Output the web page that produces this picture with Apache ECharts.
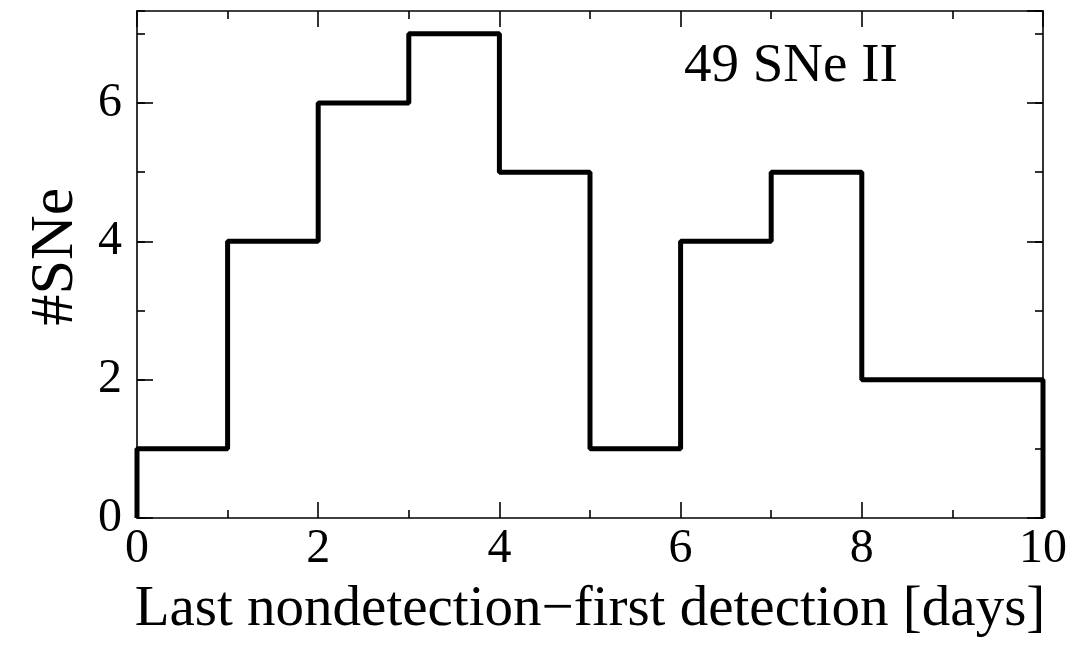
<!DOCTYPE html>
<html>
<head>
<meta charset="utf-8">
<script src="https://cdn.jsdelivr.net/npm/echarts@6/dist/echarts.min.js"></script>
<style>html,body{margin:0;padding:0;background:#fff}#c{width:1070px;height:645px}</style>
</head>
<body>
<div id="c"></div>
<script>
// Histogram data: bin edges (days) and counts per bin
var binEdges = [0, 1, 2, 3, 4, 5, 6, 7, 8, 9, 10];
var counts = [1, 4, 6, 7, 5, 1, 4, 5, 2, 2];
var xTicks = [0, 2, 4, 6, 8, 10];
var yTicks = [0, 2, 4, 6];
var annotation = '49 SNe II';
var xTitle = 'Last nondetection\u2212first detection [days]';
var yTitle = '#SNe';

var stepData = [[binEdges[0], 0]];
for (var i = 0; i < counts.length; i++) stepData.push([binEdges[i], counts[i]]);
stepData.push([binEdges[binEdges.length - 1], counts[counts.length - 1]]);
stepData.push([binEdges[binEdges.length - 1], 0]);

var FONT = 'Liberation Serif';
var YMAX = 7.33;
var lineStyle = {color: '#000', width: 1.6};

function xAx(pos, main) {
  return {
    type: 'value', position: pos, min: 0, max: 10, interval: 2,
    axisLine: {show: main, onZero: false, lineStyle: lineStyle},
    axisTick: {show: true, inside: true, length: 16, lineStyle: lineStyle},
    minorTick: {show: true, splitNumber: 2, length: 8, lineStyle: lineStyle},
    splitLine: {show: false}, minorSplitLine: {show: false},
    axisLabel: {show: pos === 'bottom', color: '#000', fontFamily: FONT, fontSize: 48, margin: 7,
      formatter: function (v) { return xTicks.indexOf(v) >= 0 ? String(v) : ''; }},
    name: pos === 'bottom' ? xTitle : '',
    nameLocation: 'middle', nameGap: 64,
    nameTextStyle: {color: '#000', fontFamily: FONT, fontSize: 57}
  };
}
function yAx(pos, major) {
  return {
    type: 'value', position: pos, min: 0, max: YMAX, interval: major ? 2 : 1,
    axisLine: {show: major, onZero: false, lineStyle: lineStyle},
    axisTick: {show: true, inside: true, length: major ? 16 : 8, lineStyle: lineStyle},
    splitLine: {show: false},
    axisLabel: {show: major && pos === 'left', color: '#000', fontFamily: FONT, fontSize: 48, margin: 15,
      showMaxLabel: false,
      formatter: function (v) { return yTicks.indexOf(v) >= 0 ? String(v) : ''; }},
    name: (major && pos === 'left') ? yTitle : '',
    nameLocation: 'middle', nameGap: 42, nameRotate: 90,
    nameTextStyle: {color: '#000', fontFamily: FONT, fontSize: 62, padding: [0, 0, 0, 16]}
  };
}

var chart = echarts.init(document.getElementById('c'), null, {renderer: 'canvas'});
chart.setOption({
  animation: false,
  backgroundColor: '#fff',
  grid: {left: 137, right: 24, top: 11, bottom: 127},
  title: {text: annotation, left: 679, top: 34,
    textStyle: {color: '#000', fontFamily: FONT, fontSize: 55, fontWeight: 'normal'}},
  xAxis: [xAx('bottom', true), xAx('top', true)],
  yAxis: [yAx('left', true), yAx('right', true), yAx('left', false), yAx('right', false)],
  series: [{
    type: 'line', step: 'end', data: stepData, xAxisIndex: 0, yAxisIndex: 0,
    symbol: 'none', lineStyle: {color: '#000', width: 5}, z: 1
  }]
});
</script>
</body>
</html>
